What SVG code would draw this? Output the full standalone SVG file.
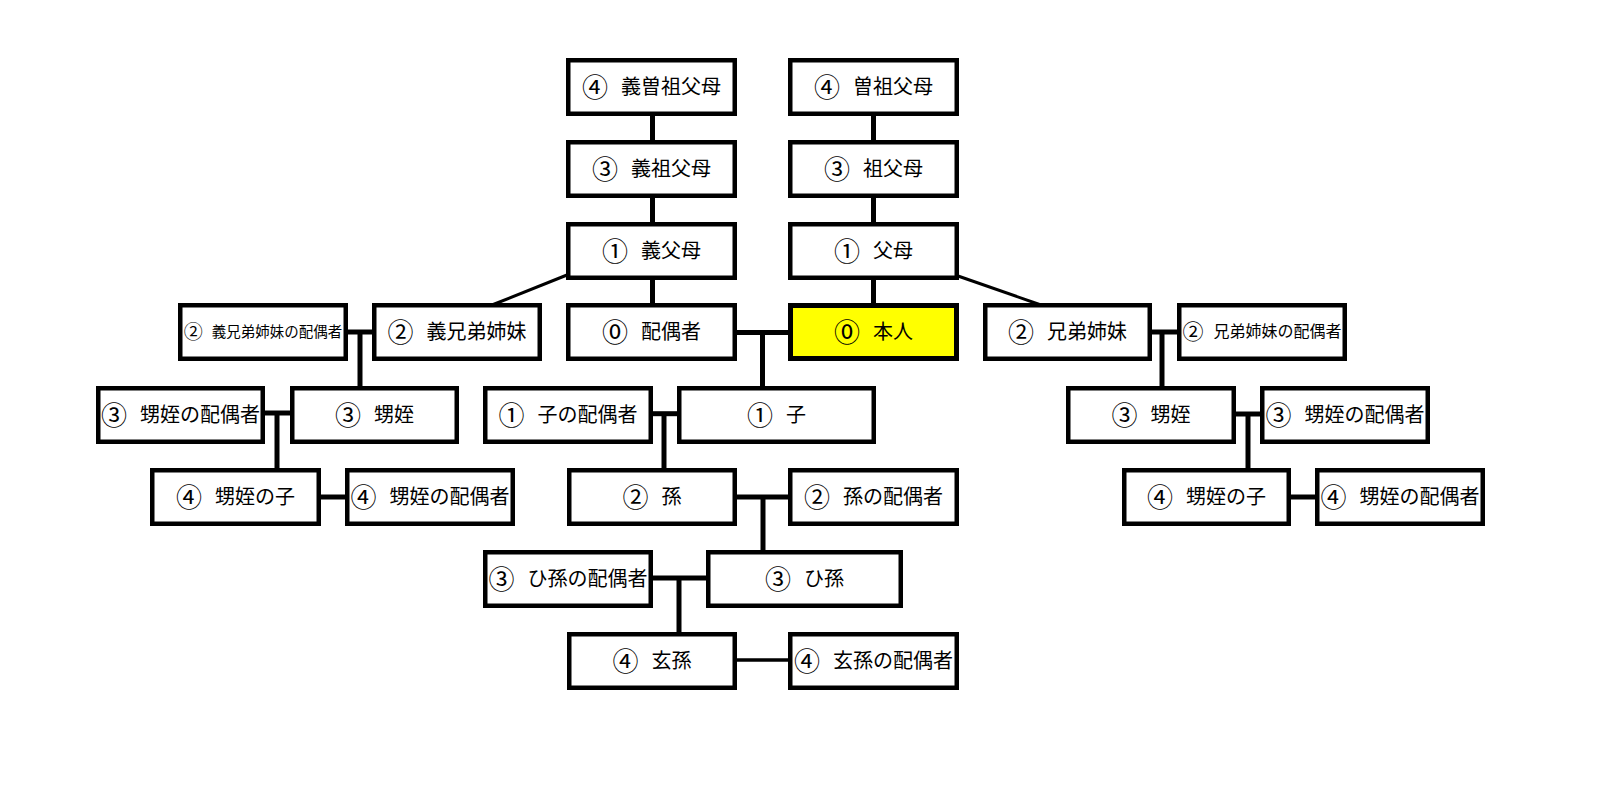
<svg xmlns="http://www.w3.org/2000/svg" width="1607" height="812" viewBox="0 0 1607 812">
<style>
.box{fill:#ffffff;stroke:#000000;stroke-width:4.5}
.me{fill:#ffff00;stroke:#000000;stroke-width:5}
.t{font-family:"Noto Sans CJK JP","Noto Sans CJK SC",sans-serif;font-size:20px;fill:#000000;text-anchor:middle;dominant-baseline:central}
.n{font-size:26px}
.s1{font-size:14.5px}
.s1 .n{font-size:19px}
.s2{font-size:16px}
.s2 .n{font-size:21px}
.c{stroke:#000000;stroke-width:5;fill:none}
.cd{stroke:#000000;stroke-width:3;fill:none}
.cn{stroke:#000000;stroke-width:3.5;fill:none}
</style>
<rect x="0" y="0" width="1607" height="812" fill="#ffffff"/>
<g id="connectors">
  <line class="c" x1="652.5" y1="112" x2="652.5" y2="306"/>
  <line class="c" x1="873.5" y1="112" x2="873.5" y2="306"/>
  <line class="cd" x1="567" y1="275" x2="492" y2="305"/>
  <line class="cd" x1="958" y1="276" x2="1041" y2="305"/>
  <line class="c" x1="735" y1="332.5" x2="790" y2="332.5"/>
  <line class="c" x1="762.5" y1="332" x2="762.5" y2="388"/>
  <line class="c" x1="651" y1="413.7" x2="680" y2="413.7"/>
  <line class="c" x1="664" y1="413" x2="664" y2="470"/>
  <line class="c" x1="735" y1="497" x2="790" y2="497"/>
  <line class="c" x1="763" y1="497" x2="763" y2="552"/>
  <line class="c" x1="651" y1="578" x2="708" y2="578"/>
  <line class="c" x1="679" y1="578" x2="679" y2="634"/>
  <line class="cn" x1="735" y1="660" x2="790" y2="660"/>
  <line class="c" x1="346" y1="332" x2="374" y2="332"/>
  <line class="c" x1="360" y1="332" x2="360" y2="388"/>
  <line class="c" x1="263" y1="413" x2="292" y2="413"/>
  <line class="c" x1="277" y1="413" x2="277" y2="470"/>
  <line class="c" x1="319" y1="497" x2="347" y2="497"/>
  <line class="c" x1="1150" y1="332" x2="1179" y2="332"/>
  <line class="c" x1="1162" y1="332" x2="1162" y2="388"/>
  <line class="c" x1="1234" y1="414" x2="1262" y2="414"/>
  <line class="c" x1="1248" y1="414" x2="1248" y2="470"/>
  <line class="c" x1="1289" y1="497" x2="1317" y2="497"/>
</g>
<g id="n-gisousofubo"><rect class="box" x="568.25" y="60.25" width="166.5" height="53.5"/><text class="t" x="651.5" y="85"><tspan class="n">④</tspan><tspan dx="13">義曽祖父母</tspan></text></g>
<g id="n-sousofubo"><rect class="box" x="790.25" y="60.25" width="166.5" height="53.5"/><text class="t" x="873.5" y="85"><tspan class="n">④</tspan><tspan dx="13">曽祖父母</tspan></text></g>
<g id="n-gisofubo"><rect class="box" x="568.25" y="142.25" width="166.5" height="53.5"/><text class="t" x="651.5" y="167"><tspan class="n">③</tspan><tspan dx="13">義祖父母</tspan></text></g>
<g id="n-sofubo"><rect class="box" x="790.25" y="142.25" width="166.5" height="53.5"/><text class="t" x="873.5" y="167"><tspan class="n">③</tspan><tspan dx="13">祖父母</tspan></text></g>
<g id="n-gifubo"><rect class="box" x="568.25" y="224.25" width="166.5" height="53.5"/><text class="t" x="651.5" y="249"><tspan class="n">①</tspan><tspan dx="13">義父母</tspan></text></g>
<g id="n-fubo"><rect class="box" x="790.25" y="224.25" width="166.5" height="53.5"/><text class="t" x="873.5" y="249"><tspan class="n">①</tspan><tspan dx="13">父母</tspan></text></g>
<g id="n-gikyoudai-spouse"><rect class="box" x="180.25" y="305.25" width="165.5" height="53.5"/><text class="t s1" x="263" y="330"><tspan class="n">②</tspan><tspan dx="9">義兄弟姉妹の配偶者</tspan></text></g>
<g id="n-gikyoudai"><rect class="box" x="374.25" y="305.25" width="165.5" height="53.5"/><text class="t" x="457" y="330"><tspan class="n">②</tspan><tspan dx="13">義兄弟姉妹</tspan></text></g>
<g id="n-haiguusha"><rect class="box" x="568.25" y="305.25" width="166.5" height="53.5"/><text class="t" x="651.5" y="330"><tspan class="n">⓪</tspan><tspan dx="13">配偶者</tspan></text></g>
<g id="n-honnin"><rect class="me" x="790.5" y="305.5" width="166" height="53"/><text class="t" x="873.5" y="330"><tspan class="n">⓪</tspan><tspan dx="13">本人</tspan></text></g>
<g id="n-kyoudai"><rect class="box" x="985.25" y="305.25" width="164.5" height="53.5"/><text class="t" x="1067.5" y="330"><tspan class="n">②</tspan><tspan dx="13">兄弟姉妹</tspan></text></g>
<g id="n-kyoudai-spouse"><rect class="box" x="1179.25" y="305.25" width="165.5" height="53.5"/><text class="t s2" x="1262" y="330"><tspan class="n">②</tspan><tspan dx="10">兄弟姉妹の配偶者</tspan></text></g>
<g id="n-oimei-spouse-l"><rect class="box" x="98.25" y="388.25" width="164.5" height="53.5"/><text class="t" x="180.5" y="413"><tspan class="n">③</tspan><tspan dx="13">甥姪の配偶者</tspan></text></g>
<g id="n-oimei-l"><rect class="box" x="292.25" y="388.25" width="164.5" height="53.5"/><text class="t" x="374.5" y="413"><tspan class="n">③</tspan><tspan dx="13">甥姪</tspan></text></g>
<g id="n-ko-spouse"><rect class="box" x="485.25" y="388.25" width="165.5" height="53.5"/><text class="t" x="568" y="413"><tspan class="n">①</tspan><tspan dx="13">子の配偶者</tspan></text></g>
<g id="n-ko"><rect class="box" x="679.25" y="388.25" width="194.5" height="53.5"/><text class="t" x="776.5" y="413"><tspan class="n">①</tspan><tspan dx="13">子</tspan></text></g>
<g id="n-oimei-r"><rect class="box" x="1068.25" y="388.25" width="165.5" height="53.5"/><text class="t" x="1151" y="413"><tspan class="n">③</tspan><tspan dx="13">甥姪</tspan></text></g>
<g id="n-oimei-spouse-r"><rect class="box" x="1262.25" y="388.25" width="165.5" height="53.5"/><text class="t" x="1345" y="413"><tspan class="n">③</tspan><tspan dx="13">甥姪の配偶者</tspan></text></g>
<g id="n-oimeinoko-l"><rect class="box" x="152.25" y="470.25" width="166.5" height="53.5"/><text class="t" x="235.5" y="495"><tspan class="n">④</tspan><tspan dx="13">甥姪の子</tspan></text></g>
<g id="n-oimei-spouse2-l"><rect class="box" x="347.25" y="470.25" width="165.5" height="53.5"/><text class="t" x="430" y="495"><tspan class="n">④</tspan><tspan dx="13">甥姪の配偶者</tspan></text></g>
<g id="n-mago"><rect class="box" x="569.25" y="470.25" width="165.5" height="53.5"/><text class="t" x="652" y="495"><tspan class="n">②</tspan><tspan dx="13">孫</tspan></text></g>
<g id="n-mago-spouse"><rect class="box" x="790.25" y="470.25" width="166.5" height="53.5"/><text class="t" x="873.5" y="495"><tspan class="n">②</tspan><tspan dx="13">孫の配偶者</tspan></text></g>
<g id="n-oimeinoko-r"><rect class="box" x="1124.25" y="470.25" width="164.5" height="53.5"/><text class="t" x="1206.5" y="495"><tspan class="n">④</tspan><tspan dx="13">甥姪の子</tspan></text></g>
<g id="n-oimei-spouse2-r"><rect class="box" x="1317.25" y="470.25" width="165.5" height="53.5"/><text class="t" x="1400" y="495"><tspan class="n">④</tspan><tspan dx="13">甥姪の配偶者</tspan></text></g>
<g id="n-himago-spouse"><rect class="box" x="485.25" y="552.25" width="165.5" height="53.5"/><text class="t" x="568" y="577"><tspan class="n">③</tspan><tspan dx="13">ひ孫の配偶者</tspan></text></g>
<g id="n-himago"><rect class="box" x="708.25" y="552.25" width="192.5" height="53.5"/><text class="t" x="804.5" y="577"><tspan class="n">③</tspan><tspan dx="13">ひ孫</tspan></text></g>
<g id="n-yashago"><rect class="box" x="569.25" y="634.25" width="165.5" height="53.5"/><text class="t" x="652" y="659"><tspan class="n">④</tspan><tspan dx="13">玄孫</tspan></text></g>
<g id="n-yashago-spouse"><rect class="box" x="790.25" y="634.25" width="166.5" height="53.5"/><text class="t" x="873.5" y="659"><tspan class="n">④</tspan><tspan dx="13">玄孫の配偶者</tspan></text></g>
</svg>
